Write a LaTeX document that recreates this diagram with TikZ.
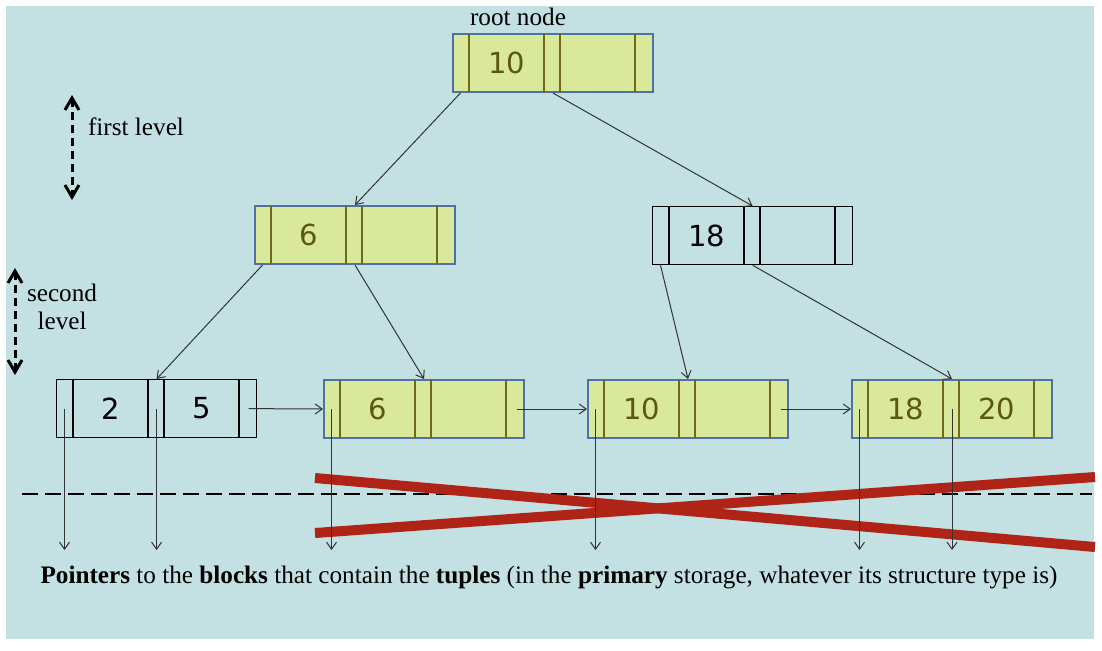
\documentclass[tikz,border=0pt]{standalone}
\usepackage{fontspec}
\setmainfont{Liberation Serif}
\newfontfamily\keyfont{DejaVu Sans}
\usetikzlibrary{arrows.meta}
\definecolor{bgteal}{HTML}{C3E0E2}
\definecolor{leafyellow}{HTML}{D9E89B}
\definecolor{edgeblue}{HTML}{4E72A6}
\definecolor{splitolive}{HTML}{6E6C1C}
\definecolor{keyolive}{HTML}{5A5812}
\definecolor{crossred}{HTML}{B02418}
\begin{document}
\begin{tikzpicture}[x=0.5pt,y=-0.5pt,
    blk/.style={draw=black,line width=0.6pt,minimum width=100pt,minimum height=29pt,inner sep=0pt,anchor=north west},
    hot/.style={blk,draw=edgeblue,fill=leafyellow,line width=1pt},
    key/.style={font=\keyfont\fontsize{14.5}{14.5}\selectfont},
    ptr/.style={draw=black!80,line width=0.5pt,-{Straight Barb[length=3.5pt,width=5pt]}},
    lvl/.style={line width=1.5pt,dash pattern=on 4pt off 2.5pt,{Straight Barb[length=6pt,width=7pt]}-{Straight Barb[length=6pt,width=7pt]}},
    note/.style={font=\rmfamily\fontsize{12.6}{14}\selectfont}]
  \useasboundingbox (0,0) rectangle (1102,650);
  \fill[bgteal] (6,6) rectangle (1094,639);

  % separator and the crossed-out part
  \draw[line width=1.4pt,dash pattern=on 8pt off 3.5pt] (22,494) -- (1092,494);
  \draw[crossred,line width=5pt] (315,478) -- (1095,547);
  \draw[crossred,line width=5pt] (315,533) -- (1095,477);

  % tree nodes
  \node[hot] (root) at (452,33) {};
  \node[hot] (n6) at (254,205) {};
  \node[blk] (n18) at (652,206) {};
  \node[blk] (la) at (56,379) {};
  \node[hot] (lb) at (323,379) {};
  \node[hot] (lc) at (587,379) {};
  \node[hot] (ld) at (851,379) {};
  \foreach \n in {root,n6,lb,lc,ld}
    \foreach \d in {8.5,46,54,91.5}
      \draw[splitolive,line width=0.6pt] ([xshift=\d pt]\n.north west) -- ([xshift=\d pt]\n.south west);
  \foreach \n in {n18,la}
    \foreach \d in {8.5,46,54,91.5}
      \draw[line width=0.6pt] ([xshift=\d pt]\n.north west) -- ([xshift=\d pt]\n.south west);

  % keys
  \node[key,text=keyolive] (root-k1) at ([xshift=27.25pt]root.west) {10};
  \node[key,text=keyolive] (n6-k1) at ([xshift=27.25pt]n6.west) {6};
  \node[key] (n18-k1) at ([xshift=27.25pt]n18.west) {18};
  \node[key] (la-k1) at ([xshift=27.25pt]la.west) {2};
  \node[key] (la-k2) at ([xshift=72.75pt]la.west) {5};
  \node[key,text=keyolive] (lb-k1) at ([xshift=27.25pt]lb.west) {6};
  \node[key,text=keyolive] (lc-k1) at ([xshift=27.25pt]lc.west) {10};
  \node[key,text=keyolive] (ld-k1) at ([xshift=27.25pt]ld.west) {18};
  \node[key,text=keyolive] (ld-k2) at ([xshift=72.75pt]ld.west) {20};

  % labels
  \node[note] (rootlbl) at (518,17) {root node};
  \node[note,anchor=west] (lvl1) at (81,127) {first level};
  \node[note,anchor=west,align=center] (lvl2) at (20,307) {second\\level};
  \node[note] (caption) at (549,577) {\textbf{Pointers} to the \textbf{blocks} that contain the \textbf{tuples} (in the \textbf{primary} storage, whatever its structure type is)};

  % level markers
  \coordinate (l1top) at (72,95);
  \coordinate (l1bot) at (72,200);
  \coordinate (l2top) at (15,268);
  \coordinate (l2bot) at (15,375);
  \draw[lvl] (l1top) -- (l1bot);
  \draw[lvl] (l2top) -- (l2bot);

  % child pointers
  \draw[ptr] ([xshift=4.25pt]root.south west) -- (n6.north);
  \draw[ptr] (root.south) -- (n18.north);
  \draw[ptr] ([xshift=4.25pt]n6.south west) -- (la.north);
  \draw[ptr] (n6.south) -- (lb.north);
  \draw[ptr] ([xshift=4.25pt]n18.south west) -- (lc.north);
  \draw[ptr] (n18.south) -- (ld.north);

  % leaf chain
  \draw[ptr] ([xshift=-4.25pt]la.east) -- (lb.west);
  \draw[ptr] ([xshift=-4.25pt]lb.east) -- (lc.west);
  \draw[ptr] ([xshift=-4.25pt]lc.east) -- (ld.west);

  % pointers to the data blocks
  \coordinate (floor) at (0,550);
  \coordinate (la-p0) at ([xshift=4.25pt]la.west);
  \coordinate (lb-p0) at ([xshift=4.25pt]lb.west);
  \coordinate (lc-p0) at ([xshift=4.25pt]lc.west);
  \coordinate (ld-p0) at ([xshift=4.25pt]ld.west);
  \coordinate (la-p1) at (la.center);
  \coordinate (ld-p1) at (ld.center);
  \foreach \p in {la-p0,la-p1,lb-p0,lc-p0,ld-p0,ld-p1}
    \draw[ptr] (\p) -- (\p |- floor);
\end{tikzpicture}
\end{document}
